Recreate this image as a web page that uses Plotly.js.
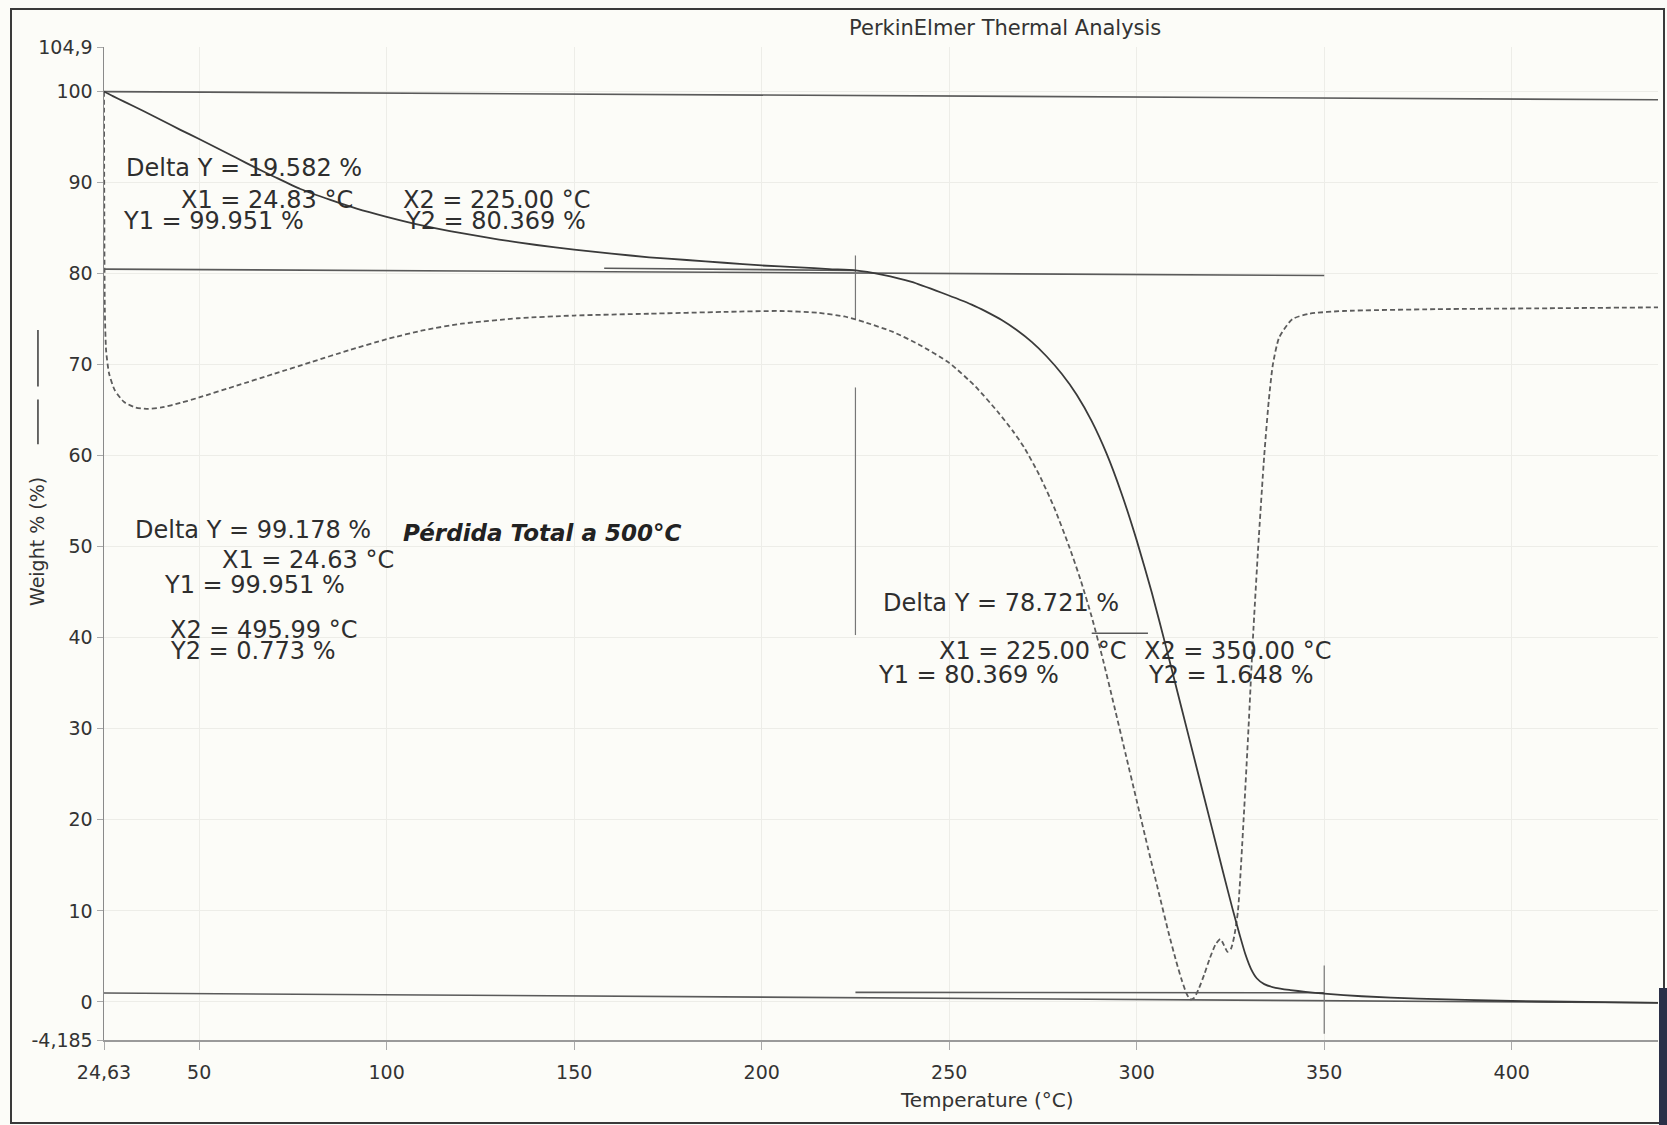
<!DOCTYPE html>
<html>
<head>
<meta charset="utf-8">
<script src="https://cdn.plot.ly/plotly-3.0.1.min.js"></script>
<style>
  html, body { margin: 0; padding: 0; background: #ffffff; }
  #wrap { position: relative; width: 1667px; height: 1125px; }
  #chart { width: 1667px; height: 1125px; }
  #frame { position: absolute; left: 10px; top: 8px; width: 1655px; height: 1116px;
           border: 2px solid #3a3a3a; box-sizing: border-box; pointer-events: none; }
  #edge { position: absolute; left: 1659px; top: 988px; width: 8px; height: 137px;
          background: #2b3048; pointer-events: none; }
</style>
</head>
<body>
<div id="wrap">
  <div id="chart"></div>
  <div id="frame"></div>
  <div id="edge"></div>
</div>
<script>
// ---- Data ----
// TGA weight curve (solid)
const tempC = [24.63, 27, 30, 35, 40, 45, 50, 55, 60, 65,
  70, 77, 85, 92, 100, 110, 120, 130, 140, 150,
  160, 170, 180, 190, 200, 210, 218, 225, 232, 240,
  248, 256, 260, 264, 268, 272, 276, 280, 284, 288,
  292, 296, 300, 304, 308, 312, 316, 320, 323, 325.5,
  327.5, 329, 330.5, 332, 334, 337, 341, 345, 350, 360,
  375, 400, 420, 439];
const weightPct = [100, 99.5, 98.9, 97.9, 96.85, 95.8, 94.8, 93.75, 92.7, 91.65,
  90.65, 89.3, 88.1, 87.15, 86.25, 85.25, 84.45, 83.75, 83.15, 82.65,
  82.2, 81.8, 81.5, 81.2, 80.9, 80.7, 80.5, 80.37, 79.9, 79.1,
  77.9, 76.6, 75.8, 74.9, 73.8, 72.5, 70.9, 69.0, 66.7, 63.8,
  60.2, 55.8, 50.7, 45.0, 38.7, 32.2, 25.7, 19.2, 14.3, 10.3,
  7.3, 5.2, 3.6, 2.6, 1.95, 1.55, 1.3, 1.1, 0.9, 0.62,
  0.36, 0.1, 0.0, -0.1];

// Derivative curve (dashed), drawn on the same scale
const derivTempC = [24.63, 24.7, 24.85, 25.2, 26, 27.5, 30, 33, 36, 40,
  45, 50, 60, 70, 80, 90, 100, 110, 120, 135,
  150, 170, 190, 205, 215, 222, 228, 235, 242, 250,
  257, 263, 267, 270, 274, 278, 282, 285, 288, 291,
  294, 297, 300, 303, 306, 308.5, 310.5, 312, 313.2, 314.2,
  315.2, 316.5, 318, 319.5, 321, 322.3, 323.3, 324.2, 325.1, 326,
  327, 328.5, 329.8, 331, 332.4, 334, 335.2, 336.3, 338, 341.5,
  346, 355, 380, 410, 439];
const derivPct = [100, 88, 76, 71.5, 69.0, 67.2, 65.9, 65.3, 65.15, 65.3,
  65.8, 66.4, 67.7, 69.0, 70.3, 71.6, 72.8, 73.8, 74.5, 75.1,
  75.4, 75.6, 75.8, 75.9, 75.7, 75.3, 74.6, 73.6, 72.2, 70.2,
  67.6, 64.8, 62.7, 60.9, 57.9, 54.3, 50.0, 46.4, 42.3, 37.6,
  32.5, 27.3, 22.1, 16.9, 11.8, 7.6, 4.5, 2.4, 1.0, 0.3,
  0.4, 1.4, 3.0, 4.8, 6.3, 6.9, 6.2, 5.5, 5.8, 7.2,
  10.0, 20.0, 30.0, 40.0, 50.0, 60.0, 66.0, 70.0, 73.0, 75.0,
  75.6, 75.9, 76.1, 76.2, 76.3];

// Cursor / reference segments (start, end) in data units
const refSegX = [[24.63, 439], [24.63, 350], [158, 225], [225, 350], [24.63, 439], [288, 303]];
const refSegY = [[100, 99.1], [80.5, 79.8], [80.6, 80.35], [1.05, 1.0], [0.98, -0.1], [40.5, 40.5]];
const markerSegX = [[225, 225], [225, 225], [350, 350]];
const markerSegY = [[82, 75], [67.5, 40.3], [4, -3.5]];

// Axis ticks
const xTickVals = [24.63, 50, 100, 150, 200, 250, 300, 350, 400];
const xTickText = ['24,63', '50', '100', '150', '200', '250', '300', '350', '400'];
const yTickVals = [-4.185, 0, 10, 20, 30, 40, 50, 60, 70, 80, 90, 100, 104.9];
const yTickText = ['-4,185', '0', '10', '20', '30', '40', '50', '60', '70', '80', '90', '100', '104,9'];

// Cursor readouts
const noteText = ['Delta Y = 19.582 %', 'X1 = 24.83 °C', 'Y1 = 99.951 %', 'X2 = 225.00 °C', 'Y2 = 80.369 %',
  'Delta Y = 99.178 %', 'X1 = 24.63 °C', 'Y1 = 99.951 %', 'X2 = 495.99 °C', 'Y2 = 0.773 %',
  'Delta Y = 78.721 %', 'X1 = 225.00 °C', 'Y1 = 80.369 %', 'X2 = 350.00 °C', 'Y2 = 1.648 %'];
const noteX = [30.2, 44.9, 29.4, 104.1, 104.6, 32.6, 55.8, 40.4, 42.0, 42.0, 232.1, 247.0, 230.8, 301.7, 302.8];
const noteY = [91.6, 88.1, 85.8, 88.1, 85.8, 51.8, 48.5, 45.8, 40.9, 38.6, 43.8, 38.6, 35.9, 38.6, 35.9];

// ---- Build traces ----
function flatten(segs) {
  const out = [];
  segs.forEach((s, i) => { out.push(s[0], s[1]); if (i < segs.length - 1) out.push(null); });
  return out;
}

const traces = [
  { x: flatten(refSegX), y: flatten(refSegY), mode: 'lines', type: 'scatter',
    line: { color: '#5a5a5a', width: 1.6 }, hoverinfo: 'skip', connectgaps: false },
  { x: flatten(markerSegX), y: flatten(markerSegY), mode: 'lines', type: 'scatter',
    line: { color: '#777', width: 1.2 }, hoverinfo: 'skip', connectgaps: false },
  { x: derivTempC, y: derivPct, mode: 'lines', type: 'scatter', name: 'Derivative',
    line: { color: '#5c5c5c', width: 1.8, dash: '5px,3px', shape: 'spline', smoothing: 0.6 } },
  { x: tempC, y: weightPct, mode: 'lines', type: 'scatter', name: 'Weight %',
    line: { color: '#3a3a3a', width: 1.8, shape: 'spline', smoothing: 0.6 } }
];

const txtFont = { family: 'DejaVu Sans, Arial, sans-serif', size: 24, color: '#2e2e2e' };
const annotations = noteText.map((t, i) => ({
  x: noteX[i], y: noteY[i], xref: 'x', yref: 'y', text: t, showarrow: false,
  xanchor: 'left', yanchor: 'middle', borderpad: 0, font: txtFont
}));
annotations.push({
  x: 104.1, y: 51.5, xref: 'x', yref: 'y', text: '<b><i>Pérdida Total a 500°C</i></b>',
  showarrow: false, xanchor: 'left', yanchor: 'middle', borderpad: 0,
  font: { family: 'DejaVu Sans, Arial, sans-serif', size: 23, color: '#222' }
});
annotations.push({
  x: 0.568, y: -0.06, xref: 'paper', yref: 'paper', text: 'Temperature (°C)', showarrow: false,
  xanchor: 'center', yanchor: 'middle',
  font: { family: 'DejaVu Sans, Arial, sans-serif', size: 20, color: '#333' }
});
annotations.push({
  x: -0.0431, y: 0.5015, xref: 'paper', yref: 'paper', text: 'Weight % (%)', showarrow: false,
  textangle: -90, xanchor: 'center', yanchor: 'middle',
  font: { family: 'DejaVu Sans, Arial, sans-serif', size: 19, color: '#333' }
});

const layout = {
  width: 1667, height: 1125,
  margin: { l: 104, r: 9, t: 47, b: 85 },
  paper_bgcolor: '#fcfcf8', plot_bgcolor: '#fcfcf8',
  showlegend: false,
  title: { text: 'PerkinElmer Thermal Analysis', xref: 'container', yref: 'container',
           x: 0.603, y: 0.975, xanchor: 'center', yanchor: 'middle',
           font: { family: 'DejaVu Sans, Arial, sans-serif', size: 21, color: '#333' } },
  xaxis: {
    range: [24.63, 439], tickmode: 'array', tickvals: xTickVals, ticktext: xTickText,
    showgrid: true, gridcolor: '#ededE8', gridwidth: 1, zeroline: false,
    showline: true, linecolor: '#9a9a9a', linewidth: 1.5,
    ticks: 'outside', ticklen: 8, tickcolor: '#aaa', ticklabelstandoff: 7,
    tickfont: { family: 'DejaVu Sans, Arial, sans-serif', size: 19, color: '#333' }
  },
  yaxis: {
    range: [-4.185, 104.9], tickmode: 'array', tickvals: yTickVals, ticktext: yTickText,
    showgrid: true, gridcolor: '#ededE8', gridwidth: 1, zeroline: false,
    showline: true, linecolor: '#8a8a8a', linewidth: 1.5,
    ticks: 'outside', ticklen: 6, tickcolor: '#aaa',
    tickfont: { family: 'DejaVu Sans, Arial, sans-serif', size: 19, color: '#333' }
  },
  shapes: [
    { type: 'line', xref: 'paper', yref: 'paper', x0: -0.0425, x1: -0.0425, y0: 0.715, y1: 0.658,
      line: { color: '#444', width: 1.6 } },
    { type: 'line', xref: 'paper', yref: 'paper', x0: -0.0425, x1: -0.0425, y0: 0.645, y1: 0.600,
      line: { color: '#444', width: 1.6 } }
  ],
  annotations: annotations
};

Plotly.newPlot('chart', traces, layout, { displayModeBar: false, staticPlot: true });
</script>
</body>
</html>
